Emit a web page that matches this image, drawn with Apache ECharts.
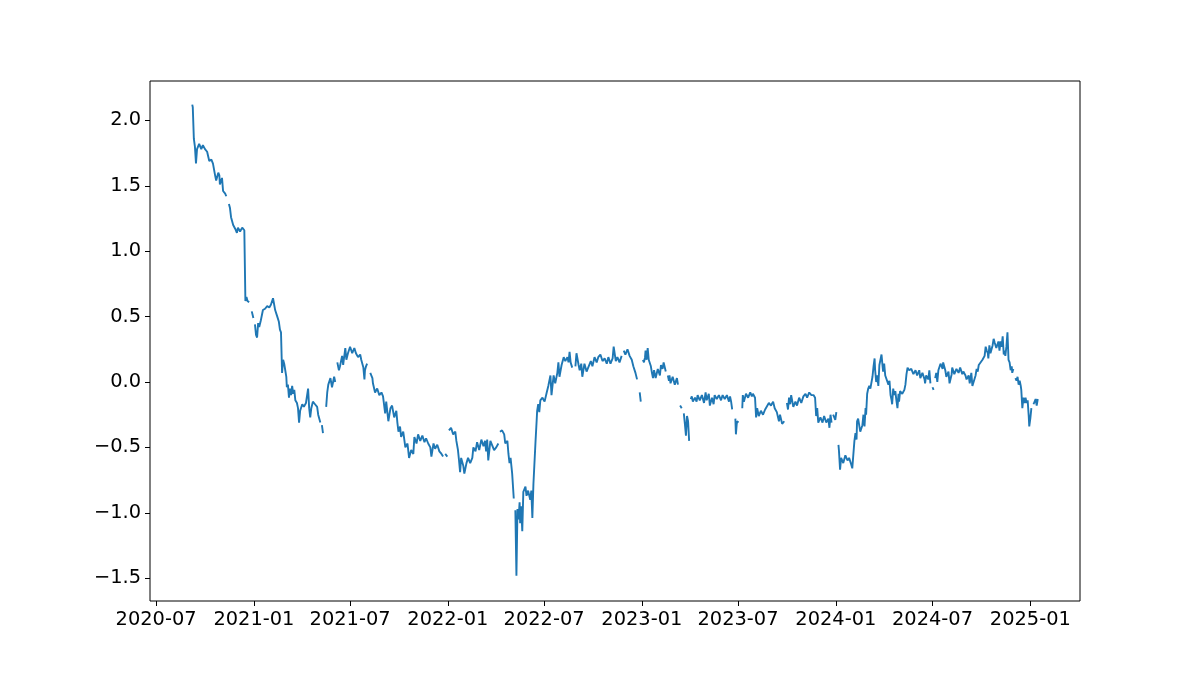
<!DOCTYPE html>
<html>
<head>
<meta charset="utf-8">
<script src="https://cdn.jsdelivr.net/npm/echarts@6/dist/echarts.min.js"></script>
<style>
html,body{margin:0;padding:0;background:#fff;}
#chart{width:1200px;height:676px;}
</style>
</head>
<body>
<div id="chart"></div>
<script>
const xTickLabels = ['2020-07','2021-01','2021-07','2022-01','2022-07','2023-01','2023-07','2024-01','2024-07','2025-01'];
const yTicks = [-1.5,-1.0,-0.5,0.0,0.5,1.0,1.5,2.0];
const xRange = ['2020-06-19 12:00:00','2025-04-04 12:00:00'];
const yRange = [-1.674, 2.301];

const data2020 = [
['2020-09-07',2.12],['2020-09-08',2.10],['2020-09-10',1.86],['2020-09-12',1.80],['2020-09-14',1.67],
['2020-09-16',1.78],['2020-09-20',1.82],['2020-09-24',1.78],['2020-09-27',1.81],['2020-10-01',1.78],
['2020-10-05',1.76],['2020-10-09',1.69],['2020-10-13',1.70],['2020-10-16',1.67],['2020-10-20',1.58],
['2020-10-22',1.54],['2020-10-26',1.60],['2020-10-28',1.58],['2020-10-29',1.51],['2020-11-02',1.56],
['2020-11-04',1.46],['2020-11-08',1.44],['2020-11-10',1.42],['2020-11-12',null],['2020-11-15',1.36],
['2020-11-17',1.33],['2020-11-19',1.26],['2020-11-21',1.27],['2020-11-23',1.20],['2020-11-27',1.17],
['2020-11-30',1.14],['2020-12-02',1.18],['2020-12-06',1.15],['2020-12-10',1.18],['2020-12-12',1.19],
['2020-12-14',1.16],['2020-12-16',0.62],['2020-12-18',0.65],['2020-12-20',0.62],['2020-12-23',0.61],
['2020-12-25',null],['2020-12-28',0.54],['2020-12-31',0.49]
];
const data2021 = [
['2021-01-02',null],['2021-01-03',0.44],['2021-01-05',0.36],['2021-01-07',0.34],['2021-01-09',0.45],
['2021-01-11',0.42],['2021-01-14',0.47],['2021-01-17',0.46],['2021-01-18',0.55],['2021-01-22',0.56],
['2021-01-26',0.58],['2021-01-30',0.57],['2021-02-02',0.59],['2021-02-06',0.64],['2021-02-10',0.55],
['2021-02-14',0.50],['2021-02-17',0.46],['2021-02-19',0.40],['2021-02-21',0.38],['2021-02-23',0.07],
['2021-02-25',0.17],['2021-02-27',0.14],['2021-03-01',0.09],['2021-03-03',0.04],['2021-03-04',-0.04],
['2021-03-06',-0.02],['2021-03-08',-0.12],['2021-03-10',-0.05],['2021-03-12',-0.10],['2021-03-14',-0.03],
['2021-03-16',-0.09],['2021-03-18',-0.06],['2021-03-20',-0.14],['2021-03-23',-0.16],['2021-03-25',-0.20],
['2021-03-27',-0.31],['2021-03-29',-0.22],['2021-04-02',-0.17],['2021-04-05',-0.19],['2021-04-09',-0.16],
['2021-04-13',-0.05],['2021-04-15',-0.20],['2021-04-17',-0.27],['2021-04-19',-0.20],['2021-04-22',-0.15],
['2021-04-26',-0.17],['2021-04-30',-0.19],['2021-05-02',-0.25],['2021-05-06',-0.31],['2021-05-07',null],
['2021-05-09',-0.33],['2021-05-11',-0.39],['2021-05-14',null],['2021-05-17',-0.19],['2021-05-19',-0.08],
['2021-05-21',-0.02],['2021-05-25',0.03],['2021-05-28',-0.04],['2021-06-01',0.04],['2021-06-03',0.00],
['2021-06-05',null],['2021-06-07',0.15],['2021-06-10',0.09],['2021-06-12',0.12],['2021-06-16',0.20],
['2021-06-18',0.13],['2021-06-22',0.26],['2021-06-24',0.17],['2021-06-27',0.22],['2021-07-01',0.27],
['2021-07-05',0.22],['2021-07-09',0.26],['2021-07-12',0.22],['2021-07-16',0.19],['2021-07-20',0.21],
['2021-07-22',0.17],['2021-07-26',0.11],['2021-07-28',0.02],['2021-07-29',0.09],['2021-07-31',0.12],
['2021-08-02',0.14],['2021-08-06',null],['2021-08-08',0.07],['2021-08-12',0.03],['2021-08-13',-0.01],
['2021-08-17',-0.08],['2021-08-21',-0.05],['2021-08-25',-0.10],['2021-08-29',-0.08],['2021-09-01',-0.11],
['2021-09-05',-0.24],['2021-09-07',-0.15],['2021-09-11',-0.30],['2021-09-15',-0.20],['2021-09-18',-0.18],
['2021-09-22',-0.27],['2021-09-26',-0.22],['2021-09-28',-0.31],['2021-09-30',-0.38],['2021-10-03',-0.34],
['2021-10-05',-0.42],['2021-10-09',-0.38],['2021-10-13',-0.50],['2021-10-17',-0.47],['2021-10-20',-0.58],
['2021-10-24',-0.52],['2021-10-28',-0.55],['2021-10-30',-0.42],['2021-11-03',-0.47],['2021-11-06',-0.40],
['2021-11-10',-0.45],['2021-11-14',-0.41],['2021-11-18',-0.46],['2021-11-21',-0.43],['2021-11-25',-0.47],
['2021-11-29',-0.50],['2021-12-01',-0.57],['2021-12-05',-0.47],['2021-12-08',-0.51],['2021-12-12',-0.48],
['2021-12-16',-0.53],['2021-12-20',-0.55],['2021-12-23',-0.57],['2021-12-25',null],['2021-12-27',-0.55],
['2021-12-31',-0.57]
];
const data2022 = [
['2022-01-02',null],['2022-01-03',-0.37],['2022-01-07',-0.35],['2022-01-11',-0.40],['2022-01-15',-0.38],
['2022-01-17',-0.45],['2022-01-20',-0.52],['2022-01-22',-0.60],['2022-01-24',-0.69],['2022-01-26',-0.58],
['2022-01-30',-0.64],['2022-02-01',-0.70],['2022-02-05',-0.62],['2022-02-08',-0.58],['2022-02-12',-0.62],
['2022-02-16',-0.58],['2022-02-18',-0.50],['2022-02-22',-0.53],['2022-02-25',-0.46],['2022-03-01',-0.52],
['2022-03-05',-0.44],['2022-03-09',-0.49],['2022-03-12',-0.45],['2022-03-14',-0.53],['2022-03-16',-0.44],
['2022-03-18',-0.60],['2022-03-22',-0.45],['2022-03-26',-0.49],['2022-03-29',-0.52],['2022-04-02',-0.50],
['2022-04-06',-0.47],['2022-04-08',null],['2022-04-09',-0.38],['2022-04-13',-0.37],['2022-04-17',-0.40],
['2022-04-19',-0.47],['2022-04-23',-0.45],['2022-04-25',-0.55],['2022-04-27',-0.62],['2022-04-29',-0.58],
['2022-05-02',-0.70],['2022-05-05',-0.89],['2022-05-06',null],['2022-05-08',-0.98],['2022-05-10',-1.48],
['2022-05-12',-0.97],['2022-05-14',-1.05],['2022-05-16',-0.92],['2022-05-17',-1.08],['2022-05-19',-0.95],
['2022-05-21',-1.14],['2022-05-23',-0.84],['2022-05-27',-0.80],['2022-05-29',-0.87],['2022-06-01',-0.83],
['2022-06-05',-0.90],['2022-06-07',-0.83],['2022-06-09',-1.04],['2022-06-11',-0.78],['2022-06-15',-0.45],
['2022-06-17',-0.30],['2022-06-18',-0.22],['2022-06-20',-0.17],['2022-06-22',-0.23],['2022-06-24',-0.14],
['2022-06-28',-0.12],['2022-07-02',-0.15],['2022-07-06',-0.08],['2022-07-09',-0.03],['2022-07-13',0.05],
['2022-07-15',-0.10],['2022-07-19',0.05],['2022-07-22',-0.01],['2022-07-26',0.07],['2022-07-28',0.15],
['2022-07-30',0.04],['2022-08-03',0.13],['2022-08-07',0.19],['2022-08-10',0.16],['2022-08-14',0.19],
['2022-08-16',0.15],['2022-08-18',0.23],['2022-08-20',0.15],['2022-08-23',0.11],['2022-08-26',null],
['2022-08-29',0.12],['2022-08-31',0.22],['2022-09-04',0.13],['2022-09-06',0.09],['2022-09-09',0.14],
['2022-09-11',0.04],['2022-09-15',0.14],['2022-09-19',0.08],['2022-09-23',0.12],['2022-09-27',0.16],
['2022-09-30',0.12],['2022-10-04',0.19],['2022-10-08',0.15],['2022-10-11',0.19],['2022-10-15',0.21],
['2022-10-19',0.16],['2022-10-23',0.18],['2022-10-27',0.14],['2022-10-30',0.19],['2022-11-03',0.14],
['2022-11-07',0.18],['2022-11-09',0.27],['2022-11-13',0.16],['2022-11-16',0.19],['2022-11-20',0.15],
['2022-11-24',0.20],['2022-11-26',null],['2022-11-28',0.24],['2022-12-01',0.21],['2022-12-05',0.25],
['2022-12-09',0.20],['2022-12-13',0.17],['2022-12-16',0.12],['2022-12-20',0.07],['2022-12-23',0.02],
['2022-12-26',null],['2022-12-28',-0.08],['2022-12-30',-0.15]
];
const data2023 = [
['2023-01-01',null],['2023-01-03',0.17],['2023-01-05',0.15],['2023-01-07',0.19],['2023-01-08',0.24],
['2023-01-10',0.17],['2023-01-12',0.26],['2023-01-14',0.17],['2023-01-18',0.12],['2023-01-20',0.07],
['2023-01-22',0.03],['2023-01-24',0.09],['2023-01-27',0.03],['2023-01-31',0.10],['2023-02-04',0.05],
['2023-02-06',0.13],['2023-02-09',0.10],['2023-02-11',0.15],['2023-02-15',0.08],['2023-02-17',null],
['2023-02-19',0.05],['2023-02-21',0.01],['2023-02-22',0.05],['2023-02-24',-0.01],['2023-02-28',0.04],
['2023-03-04',-0.02],['2023-03-08',0.03],['2023-03-10',-0.02],['2023-03-12',null],['2023-03-14',-0.18],
['2023-03-17',-0.20],['2023-03-19',null],['2023-03-21',-0.24],['2023-03-23',-0.32],['2023-03-25',-0.41],
['2023-03-27',-0.26],['2023-03-29',-0.30],['2023-03-31',-0.45],['2023-04-01',null],['2023-04-03',-0.13],
['2023-04-05',-0.11],['2023-04-07',-0.15],['2023-04-11',-0.12],['2023-04-14',-0.15],['2023-04-16',-0.10],
['2023-04-20',-0.14],['2023-04-24',-0.10],['2023-04-28',-0.16],['2023-05-01',-0.08],['2023-05-03',-0.14],
['2023-05-07',-0.09],['2023-05-09',-0.18],['2023-05-13',-0.12],['2023-05-16',-0.17],['2023-05-18',-0.10],
['2023-05-22',-0.13],['2023-05-26',-0.10],['2023-05-30',-0.14],['2023-06-02',-0.10],['2023-06-06',-0.13],
['2023-06-10',-0.10],['2023-06-14',-0.15],['2023-06-16',-0.11],['2023-06-18',-0.15],['2023-06-20',-0.21],
['2023-06-24',null],['2023-06-26',-0.28],['2023-06-27',-0.40],['2023-06-29',-0.30],['2023-07-02',-0.31],
['2023-07-05',null],['2023-07-09',-0.20],['2023-07-10',-0.10],['2023-07-12',-0.15],['2023-07-16',-0.09],
['2023-07-20',-0.12],['2023-07-24',-0.08],['2023-07-27',-0.11],['2023-07-29',-0.09],['2023-08-02',-0.12],
['2023-08-04',-0.27],['2023-08-06',-0.20],['2023-08-09',-0.26],['2023-08-13',-0.22],['2023-08-17',-0.25],
['2023-08-21',-0.21],['2023-08-24',-0.22],['2023-08-28',-0.16],['2023-09-01',-0.18],['2023-09-05',-0.15],
['2023-09-08',-0.20],['2023-09-12',-0.23],['2023-09-16',-0.30],['2023-09-18',-0.25],['2023-09-22',-0.32],
['2023-09-26',-0.30],['2023-09-29',null],['2023-10-01',-0.16],['2023-10-03',-0.21],['2023-10-05',-0.12],
['2023-10-07',-0.17],['2023-10-09',-0.10],['2023-10-13',-0.19],['2023-10-17',-0.15],['2023-10-20',-0.18],
['2023-10-24',-0.12],['2023-10-28',-0.16],['2023-11-01',-0.11],['2023-11-05',-0.09],['2023-11-08',-0.12],
['2023-11-12',-0.08],['2023-11-16',-0.10],['2023-11-20',-0.10],['2023-11-23',-0.12],['2023-11-25',-0.26],
['2023-11-27',-0.20],['2023-11-29',-0.31],['2023-12-03',-0.27],['2023-12-07',-0.31],['2023-12-10',-0.26],
['2023-12-14',-0.31],['2023-12-18',-0.28],['2023-12-20',-0.35],['2023-12-22',-0.25],['2023-12-24',-0.31],
['2023-12-25',null],['2023-12-27',-0.25],['2023-12-31',-0.29]
];
const data2024 = [
['2024-01-02',-0.23],['2024-01-05',null],['2024-01-06',-0.48],['2024-01-07',-0.53],['2024-01-09',-0.67],
['2024-01-11',-0.58],['2024-01-15',-0.62],['2024-01-19',-0.56],['2024-01-23',-0.60],['2024-01-26',-0.58],
['2024-01-30',-0.63],['2024-02-01',-0.66],['2024-02-05',-0.45],['2024-02-07',-0.39],['2024-02-09',-0.44],
['2024-02-10',-0.30],['2024-02-12',-0.28],['2024-02-16',-0.38],['2024-02-20',-0.33],['2024-02-22',-0.25],
['2024-02-24',-0.34],['2024-02-26',-0.20],['2024-02-27',-0.25],['2024-02-29',-0.09],['2024-03-02',-0.05],
['2024-03-04',-0.03],['2024-03-06',-0.05],['2024-03-10',0.04],['2024-03-12',0.12],['2024-03-14',0.18],
['2024-03-15',0.09],['2024-03-17',0.00],['2024-03-19',0.05],['2024-03-21',-0.03],['2024-03-23',0.13],
['2024-03-25',0.17],['2024-03-27',0.21],['2024-03-29',0.12],['2024-03-30',0.08],['2024-04-01',0.14],
['2024-04-03',0.05],['2024-04-05',0.04],['2024-04-09',-0.02],['2024-04-11',0.01],['2024-04-13',-0.10],
['2024-04-15',-0.14],['2024-04-16',-0.17],['2024-04-18',-0.05],['2024-04-20',-0.10],['2024-04-22',-0.07],
['2024-04-24',-0.14],['2024-04-26',-0.20],['2024-04-28',-0.09],['2024-04-29',-0.15],['2024-05-01',-0.07],
['2024-05-05',-0.09],['2024-05-09',-0.06],['2024-05-11',-0.02],['2024-05-13',0.06],['2024-05-15',0.11],
['2024-05-18',0.09],['2024-05-22',0.10],['2024-05-26',0.06],['2024-05-30',0.09],['2024-06-02',0.05],
['2024-06-06',0.09],['2024-06-08',0.03],['2024-06-12',0.07],['2024-06-16',0.02],['2024-06-17',-0.01],
['2024-06-19',0.05],['2024-06-23',0.02],['2024-06-25',0.09],['2024-06-27',-0.01],['2024-06-30',null],
['2024-07-01',-0.04],['2024-07-03',-0.06],['2024-07-05',null],['2024-07-06',0.03],['2024-07-08',0.07],
['2024-07-10',0.00],['2024-07-12',0.09],['2024-07-16',0.14],['2024-07-20',0.10],['2024-07-21',0.15],
['2024-07-25',0.09],['2024-07-27',0.04],['2024-07-31',0.08],['2024-08-02',-0.01],['2024-08-06',0.06],
['2024-08-07',0.11],['2024-08-11',0.06],['2024-08-15',0.10],['2024-08-19',0.07],['2024-08-22',0.11],
['2024-08-26',0.06],['2024-08-28',0.08],['2024-09-01',0.05],['2024-09-03',0.02],['2024-09-07',0.05],
['2024-09-09',-0.01],['2024-09-12',0.07],['2024-09-14',-0.03],['2024-09-16',-0.02],['2024-09-20',0.05],
['2024-09-22',0.10],['2024-09-24',0.08],['2024-09-26',0.13],['2024-09-29',0.14],['2024-10-03',0.17],
['2024-10-07',0.20],['2024-10-09',0.27],['2024-10-11',0.24],['2024-10-13',0.22],['2024-10-14',0.18],
['2024-10-16',0.28],['2024-10-18',0.22],['2024-10-22',0.28],['2024-10-24',0.33],['2024-10-26',0.30],
['2024-10-29',0.26],['2024-11-02',0.31],['2024-11-04',0.24],['2024-11-06',0.31],['2024-11-08',0.27],
['2024-11-10',0.35],['2024-11-12',0.21],['2024-11-13',0.24],['2024-11-15',0.20],['2024-11-17',0.27],
['2024-11-19',0.38],['2024-11-21',0.17],['2024-11-23',0.15],['2024-11-25',0.09],['2024-11-27',0.12],
['2024-11-28',0.07],['2024-11-30',0.10],['2024-12-02',null],['2024-12-04',0.03],['2024-12-06',0.01],
['2024-12-08',0.04],['2024-12-10',-0.02],['2024-12-12',0.01],['2024-12-14',-0.03],['2024-12-15',-0.06],
['2024-12-17',-0.20],['2024-12-19',-0.12],['2024-12-21',-0.16],['2024-12-23',-0.12],['2024-12-25',-0.16],
['2024-12-27',-0.14],['2024-12-29',-0.26],['2024-12-30',-0.34]
];
const data2025 = [
['2025-01-01',-0.28],['2025-01-03',-0.20],['2025-01-05',null],['2025-01-07',-0.17],['2025-01-11',-0.13],
['2025-01-13',-0.18],['2025-01-15',-0.13]
];

const toTime = s => echarts.time.parse(s).getTime();
const seriesData = [].concat(data2020, data2021, data2022, data2023, data2024, data2025)
  .map(p => [toTime(p[0]), p[1] === null ? '-' : p[1]]);
const xTickValues = xTickLabels.map(s => toTime(s + '-01'));

const chart = echarts.init(document.getElementById('chart'), null, {renderer: 'canvas'});
const font = 'DejaVu Sans';
chart.setOption({
  backgroundColor: '#ffffff',
  animation: false,
  grid: {left: 150, right: 120, top: 81, bottom: 75, show: true, borderColor: '#000', borderWidth: 1, backgroundColor: 'transparent'},
  xAxis: {
    type: 'value',
    position: 'bottom',
    min: toTime(xRange[0]),
    max: toTime(xRange[1]),
    axisLine: {show: false, onZero: false},
    splitLine: {show: false},
    axisTick: {show: true, inside: false, customValues: xTickValues, length: 5, lineStyle: {color: '#000', width: 1}},
    axisLabel: {
      customValues: xTickValues,
      margin: 9,
      color: '#000', fontFamily: font, fontSize: 19.4,
      formatter: v => {
        const i = xTickValues.indexOf(v);
        return i >= 0 ? xTickLabels[i] : echarts.time.format(v, '{yyyy}-{MM}', false);
      }
    }
  },
  yAxis: {
    type: 'value',
    position: 'left',
    min: yRange[0], max: yRange[1],
    axisLine: {show: false, onZero: false},
    splitLine: {show: false},
    axisTick: {show: true, inside: false, customValues: yTicks, length: 5, lineStyle: {color: '#000', width: 1}},
    axisLabel: {
      customValues: yTicks,
      margin: 9,
      color: '#000', fontFamily: font, fontSize: 19.4,
      formatter: v => (v < 0 ? '\u2212' : '') + Math.abs(v).toFixed(1)
    }
  },
  series: [{
    type: 'line',
    data: seriesData,
    showSymbol: false,
    connectNulls: false,
    lineStyle: {color: '#1f77b4', width: 1.9},
    itemStyle: {color: '#1f77b4'}
  }]
});
</script>
</body>
</html>
